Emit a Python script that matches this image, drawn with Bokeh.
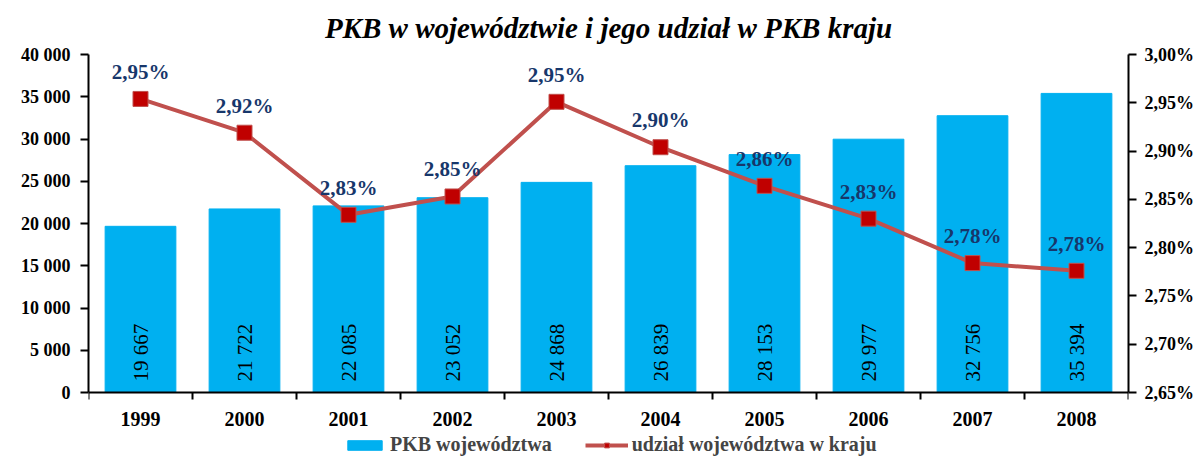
from math import pi
from bokeh.plotting import figure
from bokeh.models import (Range1d, LinearAxis, FixedTicker, Legend, LegendItem,
                          CustomJSTickFormatter, Label)
from bokeh.core.properties import value
from bokeh.embed import file_html
from bokeh.resources import INLINE

years = ["1999", "2000", "2001", "2002", "2003", "2004", "2005", "2006", "2007", "2008"]
pkb = [19667, 21722, 22085, 23052, 24868, 26839, 28153, 29977, 32756, 35394]
share = [2.954, 2.919, 2.834, 2.853, 2.951, 2.904, 2.864, 2.830, 2.784, 2.776]
left_ticks = [0, 5000, 10000, 15000, 20000, 25000, 30000, 35000, 40000]
right_ticks = [2.65, 2.70, 2.75, 2.80, 2.85, 2.90, 2.95, 3.00]
title_text = "PKB w województwie i jego udział w PKB kraju"

FONT = "Liberation Serif"
# layout (pixels): plotting area 338 px tall, with room above for the title
# and below for the category labels and legend
PLOT_H, PX_TOP, PX_BOT = 338, 54, 64

def ext_range(lo, hi):
    span = hi - lo
    return Range1d(lo - span * PX_BOT / PLOT_H, hi + span * PX_TOP / PLOT_H)

xs = [i + 0.5 for i in range(len(years))]
bounds = list(range(len(years) + 1))
pkb_txt = [f"{v:,}".replace(",", " ") for v in pkb]
share_txt = [f"{v:.2f}%".replace(".", ",") for v in share]

p = figure(frame_width=1040, frame_height=PLOT_H + PX_TOP + PX_BOT,
           x_range=Range1d(0, len(years)),
           y_range=ext_range(left_ticks[0], left_ticks[-1]),
           output_backend="svg", toolbar_location=None,
           min_border_left=88, min_border_right=66, min_border_top=0,
           min_border_bottom=0)
p.extra_y_ranges = {"pct": ext_range(right_ticks[0], right_ticks[-1])}
p.outline_line_color = None
p.grid.visible = False

title = Label(x=len(years) / 2, y=left_ticks[-1], y_offset=27, text=title_text,
              text_align="center", text_baseline="middle", text_font=FONT,
              text_font_style="bold italic", text_font_size="29px",
              text_color="black")
p.add_layout(title)

bars = p.vbar(x=xs, top=pkb, width=0.68, color="#00B0F0")
p.text(x=xs, y=[0] * len(xs), text=pkb_txt, angle=pi / 2, y_offset=-11,
       text_align="left", text_baseline="middle", text_font=value(FONT),
       text_font_size="21px", text_color="black")

line = p.line(xs, share, y_range_name="pct", color="#C0504D", line_width=4)
sq = p.scatter(xs, share, y_range_name="pct", marker="square", size=15,
               fill_color="#C00000", line_color="#C0504D")
p.text(x=xs, y=share, text=share_txt, y_range_name="pct", y_offset=-27,
       text_align="center", text_baseline="middle", text_font=value(FONT),
       text_font_style="bold", text_font_size="21px", text_color="#17376B")

def style_axis(ax, size="18px"):
    ax.axis_line_width = 2
    ax.axis_line_color = "black"
    ax.major_tick_line_width = 2
    ax.major_tick_line_color = "black"
    ax.minor_tick_line_width = 2
    ax.minor_tick_line_color = "black"
    ax.major_tick_in = 0
    ax.major_tick_out = 8
    ax.minor_tick_in = 0
    ax.minor_tick_out = 0
    ax.major_label_text_font = FONT
    ax.major_label_text_font_style = "bold"
    ax.major_label_text_font_size = size
    ax.major_label_text_color = "black"

yl = p.yaxis[0]
yl.ticker = FixedTicker(ticks=left_ticks)
yl.bounds = (left_ticks[0], left_ticks[-1])
yl.formatter = CustomJSTickFormatter(code="return String(tick).replace(/\\B(?=(\\d{3})+(?!\\d))/g, ' ');")
style_axis(yl)
yl.major_label_standoff = 10

yr = LinearAxis(y_range_name="pct", ticker=FixedTicker(ticks=right_ticks),
                bounds=(right_ticks[0], right_ticks[-1]),
                formatter=CustomJSTickFormatter(code="return tick.toFixed(2).replace('.', ',') + '%';"))
style_axis(yr)
yr.major_label_standoff = 8
p.add_layout(yr, "right")

xa = p.xaxis[0]
xa.fixed_location = left_ticks[0]
xa.ticker = FixedTicker(ticks=xs, minor_ticks=bounds)
xa.formatter = CustomJSTickFormatter(args=dict(labels=years),
                                     code="return labels[Math.floor(tick)];")
style_axis(xa, "20px")
xa.major_tick_out = 0
xa.minor_tick_out = 7
xa.major_label_standoff = 12

legend = Legend(items=[LegendItem(label="PKB województwa", renderers=[bars]),
                       LegendItem(label="udział województwa w kraju", renderers=[line, sq])],
                orientation="horizontal", location=(255, 0),
                padding=0, margin=0, spacing=33, glyph_width=43, glyph_height=12,
                border_line_alpha=0, background_fill_alpha=0,
                label_text_font=FONT, label_text_font_style="bold",
                label_text_font_size="20px", label_standoff=4,
                label_height=12)
p.add_layout(legend, "center")

open("out.html", "w").write(file_html(p, INLINE))
